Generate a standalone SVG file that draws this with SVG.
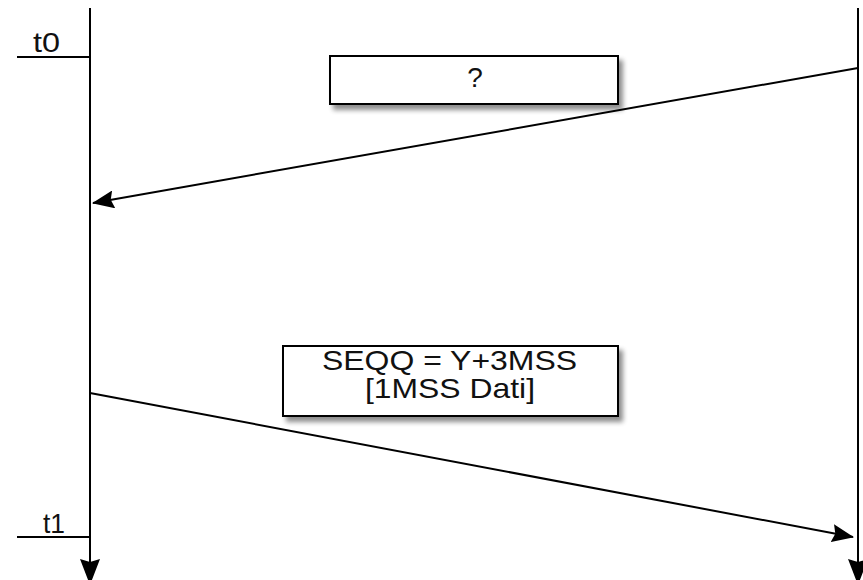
<svg xmlns="http://www.w3.org/2000/svg" width="863" height="580" viewBox="0 0 863 580">
<style>
.ln{stroke:#000;stroke-width:2;fill:none}
.box{fill:#fff;stroke:#000;stroke-width:2}
.t{font-family:"Liberation Sans",Arial,sans-serif;fill:#111;font-size:28px}
</style>
<defs>
<marker id="ah2" viewBox="0 0 22 18" refX="21" refY="9" markerWidth="22" markerHeight="18" orient="auto" markerUnits="userSpaceOnUse">
<path d="M0,0 L22,9 L0,18 L3,9 Z" fill="#000"/>
</marker>
<marker id="ah3" viewBox="0 0 26 20" refX="25" refY="10" markerWidth="26" markerHeight="20" orient="auto" markerUnits="userSpaceOnUse">
<path d="M0,0 L26,10 L0,20 L3,10 Z" fill="#000"/>
</marker>
<filter id="sh" x="-10%" y="-20%" width="130%" height="160%">
<feGaussianBlur in="SourceAlpha" stdDeviation="2.5"/>
<feOffset dx="4" dy="5" result="b"/>
<feComponentTransfer><feFuncA type="linear" slope="0.45"/></feComponentTransfer>
<feMerge><feMergeNode/><feMergeNode in="SourceGraphic"/></feMerge>
</filter>
</defs>
<g id="lifelines">
<line class="ln" x1="90" y1="8" x2="90" y2="584" marker-end="url(#ah3)"/>
<line class="ln" x1="858" y1="8" x2="858" y2="584" marker-end="url(#ah3)"/>
</g>
<g id="t0">
<line class="ln" x1="17" y1="57" x2="90" y2="57"/>
<text class="t" x="33" y="52" textLength="27" lengthAdjust="spacingAndGlyphs">t0</text>
</g>
<g id="t1">
<line class="ln" x1="17" y1="537" x2="90" y2="537"/>
<text class="t" x="43" y="533" textLength="22" lengthAdjust="spacingAndGlyphs">t1</text>
</g>
<g id="connectors">
<line class="ln" x1="858" y1="68" x2="93" y2="203" marker-end="url(#ah2)"/>
<line class="ln" x1="90" y1="393" x2="853" y2="537" marker-end="url(#ah2)"/>
</g>
<g id="box1">
<rect class="box" x="330" y="56" width="288" height="48" filter="url(#sh)"/>
<text class="t" x="475" y="87" text-anchor="middle">?</text>
</g>
<g id="box2">
<rect class="box" x="283" y="346" width="335" height="70" filter="url(#sh)"/>
<text class="t" x="322" y="370" textLength="255" lengthAdjust="spacingAndGlyphs">SEQQ = Y+3MSS</text>
<text class="t" x="365" y="398" textLength="170" lengthAdjust="spacingAndGlyphs">[1MSS Dati]</text>
</g>
</svg>
